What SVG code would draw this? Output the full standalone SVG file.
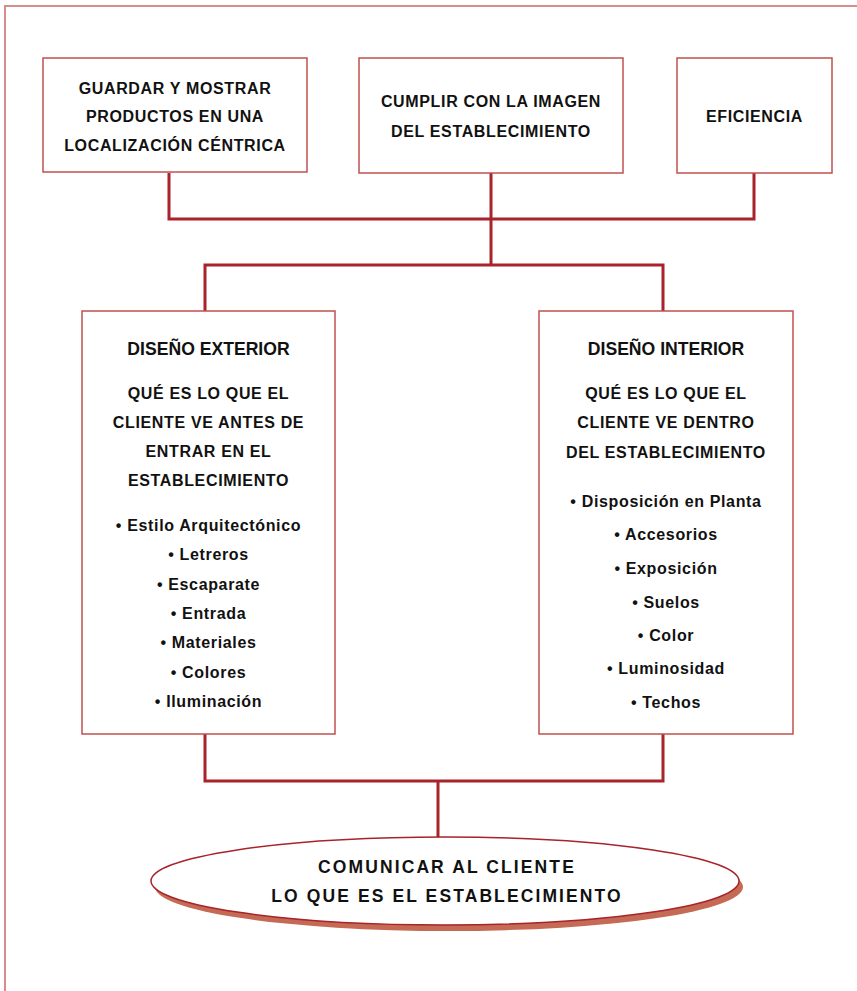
<svg xmlns="http://www.w3.org/2000/svg" width="857" height="991" viewBox="0 0 857 991">
<style>
.frame{fill:none;stroke:#d98c8c;stroke-width:2}
.box{fill:#fff;stroke:#c0504d;stroke-width:1.5}
.conn{fill:none;stroke:#a8232a;stroke-width:3}
.t{font-family:"Liberation Sans",Arial,sans-serif;font-weight:bold;font-size:16px;fill:#111;text-anchor:middle;letter-spacing:0.65px}
.h{font-size:17.6px;letter-spacing:0}
.e{font-size:17.5px;letter-spacing:2.1px}
</style>
<rect width="857" height="991" fill="#fff"/>
<path class="frame" d="M5,991 V6 H857"/>
<g id="connectors">
<path class="conn" d="M169,173 V219 H754 V173"/>
<path class="conn" d="M491,173 V265"/>
<path class="conn" d="M205,311 V265 H663 V311"/>
<path class="conn" d="M205,734 V781 H663 V734"/>
<path class="conn" d="M438,781 V838"/>
</g>
<g id="n_guardar">
<rect class="box" x="43" y="58" width="264" height="114"/>
<text class="t" x="175" y="94">GUARDAR Y MOSTRAR</text>
<text class="t" x="175" y="122">PRODUCTOS EN UNA</text>
<text class="t" x="175" y="151">LOCALIZACIÓN CÉNTRICA</text>
</g>
<g id="n_cumplir">
<rect class="box" x="359" y="58" width="264" height="115"/>
<text class="t" x="491" y="107">CUMPLIR CON LA IMAGEN</text>
<text class="t" x="491" y="137">DEL ESTABLECIMIENTO</text>
</g>
<g id="n_eficiencia">
<rect class="box" x="677" y="58" width="155" height="115"/>
<text class="t" x="754.5" y="122">EFICIENCIA</text>
</g>
<g id="n_exterior">
<rect class="box" x="82" y="311" width="253" height="423"/>
<text class="t h" x="208.5" y="355">DISEÑO EXTERIOR</text>
<text class="t" x="208.5" y="399">QUÉ ES LO QUE EL</text>
<text class="t" x="208.5" y="428">CLIENTE VE ANTES DE</text>
<text class="t" x="208.5" y="457">ENTRAR EN EL</text>
<text class="t" x="208.5" y="486">ESTABLECIMIENTO</text>
<text class="t" x="208.5" y="531">• Estilo Arquitectónico</text>
<text class="t" x="208.5" y="560">• Letreros</text>
<text class="t" x="208.5" y="590">• Escaparate</text>
<text class="t" x="208.5" y="619">• Entrada</text>
<text class="t" x="208.5" y="648">• Materiales</text>
<text class="t" x="208.5" y="678">• Colores</text>
<text class="t" x="208.5" y="707">• Iluminación</text>
</g>
<g id="n_interior">
<rect class="box" x="539" y="311" width="254" height="423"/>
<text class="t h" x="666" y="355">DISEÑO INTERIOR</text>
<text class="t" x="666" y="399">QUÉ ES LO QUE EL</text>
<text class="t" x="666" y="428">CLIENTE VE DENTRO</text>
<text class="t" x="666" y="458">DEL ESTABLECIMIENTO</text>
<text class="t" x="666" y="507">• Disposición en Planta</text>
<text class="t" x="666" y="540">• Accesorios</text>
<text class="t" x="666" y="574">• Exposición</text>
<text class="t" x="666" y="608">• Suelos</text>
<text class="t" x="666" y="641">• Color</text>
<text class="t" x="666" y="674">• Luminosidad</text>
<text class="t" x="666" y="708">• Techos</text>
</g>
<g id="n_comunicar">
<ellipse cx="449" cy="887" rx="294" ry="44" fill="#c46a55"/>
<ellipse cx="445" cy="881" rx="294" ry="44" fill="#fff" stroke="#a8232a" stroke-width="1.5"/>
<text class="t e" x="447" y="873">COMUNICAR AL CLIENTE</text>
<text class="t e" x="447" y="902">LO QUE ES EL ESTABLECIMIENTO</text>
</g>
</svg>
